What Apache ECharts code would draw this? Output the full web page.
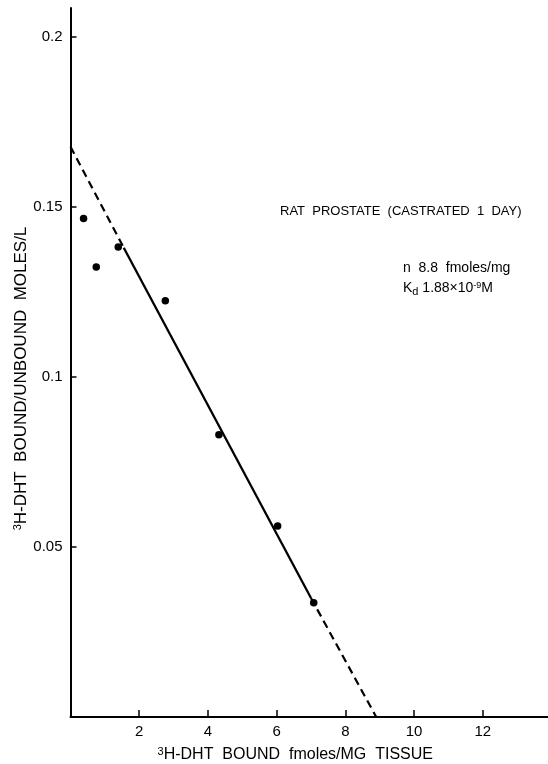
<!DOCTYPE html>
<html>
<head>
<meta charset="utf-8">
<script src="https://cdn.jsdelivr.net/npm/echarts@6/dist/echarts.min.js"></script>
<style>
  html, body { margin: 0; padding: 0; background: #fff; }
  #chart { width: 548px; height: 764px; }
</style>
</head>
<body>
<div id="chart"></div>
<script>
// Scatchard plot, rat prostate (castrated 1 day)
var boundX = [0.38, 0.75, 1.39, 2.76, 4.32, 6.03, 7.08];          // fmoles/mg tissue
var ratioY = [0.1466, 0.1323, 0.1382, 0.1224, 0.0830, 0.0562, 0.0336]; // bound/unbound

// fitted line: intercept, ends of the solid part, x-intercept
var fitX = [0, 1.55, 7.0, 8.9];
var fitY = [0.1677, 0.138, 0.035, 0];

var xTicks = [2, 4, 6, 8, 10, 12];
var yTicks = [0.05, 0.1, 0.15, 0.2];

var font = 'Liberation Sans, Arial, sans-serif';
var ink = '#000';

function pts(i, j) {
  var out = [];
  for (var k = i; k <= j; k++) out.push([fitX[k], fitY[k]]);
  return out;
}

var dots = boundX.map(function (x, i) { return [x, ratioY[i]]; });

var lineBase = { type: 'line', symbol: 'none', silent: true, animation: false };
var supStyle = { fontSize: 11, verticalAlign: 'top', padding: [0, 0, 7, 0], fontFamily: font, color: ink };

var myChart = echarts.init(document.getElementById('chart'));
var option = {
  backgroundColor: '#fff',
  animation: false,
  grid: { left: 70.5, top: 8, right: 0, bottom: 47, outerBoundsMode: 'none' },
  xAxis: {
    type: 'value',
    min: 0,
    max: 13.9,
    interval: 2,
    axisLine: { lineStyle: { color: ink, width: 2 } },
    axisTick: { inside: true, length: 7, lineStyle: { color: ink, width: 1.5 } },
    axisLabel: {
      color: ink, fontSize: 15, fontFamily: font, margin: 7,
      showMaxLabel: false,
      formatter: function (v) { return xTicks.indexOf(v) >= 0 ? String(v) : ''; }
    },
    splitLine: { show: false },
    name: '{sup|3}H-DHT  BOUND  fmoles/MG  TISSUE',
    nameLocation: 'middle',
    nameMoveOverlap: false,
    nameGap: 29,
    nameTextStyle: {
      color: ink, fontSize: 16, fontFamily: font, padding: [0, 28, 0, 0],
      rich: { sup: supStyle }
    }
  },
  yAxis: {
    type: 'value',
    min: 0,
    max: 0.2085,
    interval: 0.05,
    axisLine: { lineStyle: { color: ink, width: 2 } },
    axisTick: { inside: true, length: 6, lineStyle: { color: ink, width: 1.5 } },
    axisLabel: {
      color: ink, fontSize: 15, fontFamily: font, margin: 8,
      showMaxLabel: false,
      formatter: function (v) {
        for (var i = 0; i < yTicks.length; i++) {
          if (Math.abs(yTicks[i] - v) < 1e-9) return String(yTicks[i]);
        }
        return '';
      }
    },
    splitLine: { show: false },
    name: '{sup|3}H-DHT  BOUND/UNBOUND  MOLES/L',
    nameLocation: 'middle',
    nameMoveOverlap: false,
    nameRotate: 90,
    nameGap: 40,
    nameTextStyle: {
      color: ink, fontSize: 17, fontFamily: font, padding: [0, 32, 0, 0],
      rich: { sup: supStyle }
    }
  },
  series: [
    Object.assign({}, lineBase, {
      data: pts(0, 1),
      lineStyle: { color: ink, width: 2.2, type: [8, 5] }
    }),
    Object.assign({}, lineBase, {
      data: pts(1, 2),
      lineStyle: { color: ink, width: 2.3, type: 'solid' }
    }),
    Object.assign({}, lineBase, {
      data: pts(2, 3),
      lineStyle: { color: ink, width: 2.2, type: [8, 5] }
    }),
    {
      type: 'scatter',
      data: dots,
      symbol: 'circle',
      symbolSize: 7.5,
      itemStyle: { color: ink, opacity: 1 },
      animation: false
    }
  ],
  graphic: [
    {
      type: 'text', left: 280, top: 205,
      style: { text: 'RAT  PROSTATE  (CASTRATED  1  DAY)', fill: ink, font: '13px ' + font }
    },
    {
      type: 'text', left: 403, top: 261,
      style: { text: 'n  8.8  fmoles/mg', fill: ink, font: '14px ' + font }
    },
    {
      type: 'text', left: 403, top: 281,
      style: {
        text: 'K{sub|d} 1.88×10{sup|-9}M', fill: ink, font: '14px ' + font,
        rich: {
          sub: { fontSize: 11, fontFamily: font, fill: ink, padding: [6, 0, 0, 0] },
          sup: { fontSize: 9, fontFamily: font, fill: ink, padding: [0, 0, 6, 0] }
        }
      }
    }
  ]
};
myChart.setOption(option);
</script>
</body>
</html>
